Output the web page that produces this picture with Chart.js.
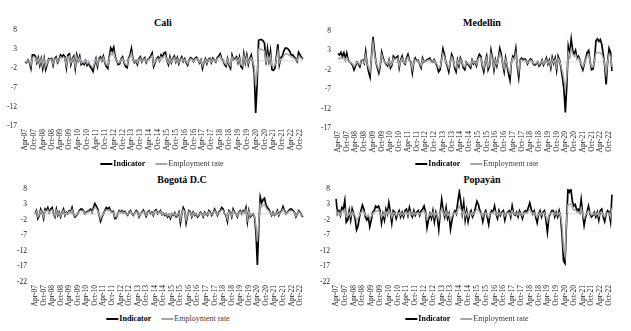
<!DOCTYPE html>
<html>
<head>
<meta charset="utf-8">
<script src="https://cdn.jsdelivr.net/npm/chart.js@4.4.1/dist/chart.umd.min.js"></script>
<style>
  body { margin: 0; background: #fff; }
  #wrap { position: relative; width: 631px; height: 331px; overflow: hidden; font-family: 'Liberation Serif', 'Times New Roman', serif; }
  .box { position: absolute; }
  .title { position: absolute; font-weight: bold; font-size: 10px; line-height: 12px; transform: translateX(-50%); white-space: nowrap; color: #000; }
  .legend { position: absolute; font-size: 8px; line-height: 10px; transform: translateX(-50%); white-space: nowrap; color: #000; }
  .sw { display: inline-block; width: 12px; height: 2px; vertical-align: middle; margin-right: 1px; }
  .blk { background: #000; }
  .gry { background: #a6a6a6; margin-left: 10px; }
  .emp { color: #3a3a3a; }
</style>
</head>
<body>
<div id="wrap">
  <div class="title" style="left:163px;top:17px">Cali</div>
  <div class="title" style="left:482px;top:17px">Medellín</div>
  <div class="title" style="left:182px;top:174px">Bogotá D.C</div>
  <div class="title" style="left:482px;top:174px">Popayán</div>

  <div class="box" style="left:0;top:0;width:315px;height:156px"><canvas id="cali"></canvas></div>
  <div class="box" style="left:315px;top:0;width:316px;height:156px"><canvas id="medellin"></canvas></div>
  <div class="box" style="left:0;top:168px;width:315px;height:146px"><canvas id="bogota"></canvas></div>
  <div class="box" style="left:305px;top:168px;width:326px;height:146px"><canvas id="popayan"></canvas></div>

  <div class="legend" style="left:162px;top:159px"><span class="sw blk"></span><b>Indicator</b><span class="sw gry"></span><span class="emp">Employment rate</span></div>
  <div class="legend" style="left:477px;top:159px"><span class="sw blk"></span><b>Indicator</b><span class="sw gry"></span><span class="emp">Employment rate</span></div>
  <div class="legend" style="left:168px;top:314px"><span class="sw blk"></span><b>Indicator</b><span class="sw gry"></span><span class="emp">Employment rate</span></div>
  <div class="legend" style="left:467px;top:314px"><span class="sw blk"></span><b>Indicator</b><span class="sw gry"></span><span class="emp">Employment rate</span></div>
</div>

<script>
// months Apr-07 .. Dec-22
var mesesNomes = ['Jan','Feb','Mar','Apr','May','Jun','Jul','Aug','Sep','Oct','Nov','Dec'];
var anoInicio = 2007, anoFim = 2022;

var caliIndicator = [
  -0.3, -0.5, 0.2, -0.5, -2, 1.5, 1.6, 1.2, -0.5,
  0.8, -1.2, 0.5, -2, 0.5, -2.3, -1, 0.5, 0.3, 0.6, -1.2, 0.5,
  1, -0.5, 0.3, 1.5, 1, 1.5, 1, -1.8, 1.5, 1.8, -1, 0.5,
  1.2, -2, 1.5, 0, 1.2, -1, -0.5, -1, 0, -1.2, -0.5, -1.5,
  -2, -2.8, -1, 0.5, -1.5, 0.5, 1, 0, 1.2, -0.5, -1.5, -2,
  1, 3.3, 2.5, 3.5, 1, 0, -1, -0.8, 0.5, 1, -0.5, -1.5,
  -1.8, 0.5, 1.5, 3.2, 0.5, -0.5, 0, -1, 0.5, 1, -0.3, 0.4,
  0.8, -0.5, 0.3, 0.6, 1.2, 2, -1.5, -0.5, 0.5, 1, 0, 1.5,
  1, 2, 2.2, 0, -1, 1, -0.5, 0.6, 1.2, -0.3, 0.8, -0.8,
  0.3, 1, -0.2, 0.5, -0.5, -1.2, 0.3, 0.8, 0.5, -0.2, 0.6, 0.9,
  0.3, -0.6, 0.2, -2, -0.4, 0.5, -0.8, 0.3, 0.6, -0.5, 0.7, 0.2,
  -0.3, 0.8, 1.2, 1.8, 0.5, 0, -1, -1.5, 0.5, -1.2, -2, 1.5,
  0.3, 0.5, 1, -0.5, 1, -1.5, -2, 1.8, -0.5, 1.5, -1, 0.5,
  1.5, -0.5, -3, -13.6, -6, 5.3, 5.5, 5.5, 5.2, 4.5, -1, 3,
  0, 2.5, -2.3, -2.5, -2, 1, 4.3, -1, 0.8, 1.2, 2.5, 3.3,
  3.3, 3, 2.5, 1.5, 1.5, 1, 0.5, -0.2, 2.2, 1.5, 0.8, 0.5
];
var caliEmployment = [
  -0.2, -0.3, 0.1, -0.3, -1.2, 0.8, 1, 0.7, -0.3,
  0.5, -0.8, 0.3, -1.3, 0.3, -1.5, -0.7, 0.3, 0.2, 0.4, -0.8, 0.3,
  0.6, -0.3, 0.2, 1, 0.7, 1, 0.7, -1.2, 1, 1.2, -0.6, 0.3,
  0.8, -1.3, 1, 0, 0.8, -0.6, -0.3, -0.6, 0, -0.8, -0.3, -1,
  -1.3, -1.8, -0.6, 0.3, -1, 0.3, 0.6, 0, 0.8, -0.3, -1, -1.3,
  0.6, 2, 1.5, 2.2, 0.6, 0, -0.6, -0.5, 0.3, 0.6, -0.3, -1,
  -1.2, 0.3, 1, 2, 0.3, -0.3, 0, -0.6, 0.3, 0.6, -0.2, 0.3,
  0.5, -0.3, 0.2, 0.4, 0.8, 1.3, -1, -0.3, 0.3, 0.6, 0, 1,
  0.6, 1.3, 1.4, 0, -0.6, 0.6, -0.3, 0.4, 0.8, -0.2, 0.5, -0.5,
  0.2, 0.6, -0.1, 0.3, -0.3, -0.8, 0.2, 0.5, 0.3, -0.1, 0.4, 0.6,
  0.2, -0.4, 0.1, -1.3, -0.3, 0.3, -0.5, 0.2, 0.4, -0.3, 0.4, 0.1,
  -0.2, 0.5, 0.8, 1.2, 0.3, 0, -0.6, -1, 0.3, -0.8, -1.3, 1,
  0.2, 0.3, 0.6, -0.3, 0.6, -1, -1.3, 1.2, -0.3, 1, -0.6, 0.3,
  0.8, -0.3, -1.5, -6.5, -3, 3, 3, 3, 2.8, 2.5, -0.5, 1.5,
  0, 1.3, -1.2, -1.5, -1.2, 0.5, 2.5, -0.5, 0.5, 0.6, 1.2, 1.8,
  1.8, 1.6, 1.4, 1, 0.9, 0.6, 0.3, 0, 1.2, 0.9, 0.5, 0.3
];

var medellinIndicator = [
  2.2, 1.8, 2.5, 1.5, 2.4, 0.8, 2.3, 0.5, 0,
  -0.3, -0.8, -2, -1, 0, -0.5, -1.2, 0.3, 0.5, -0.3, 2.7, -0.5,
  -2.5, -3.9, 1.5, 6.5, 3, 0, -1.5, -2.8, -1, 2.5, 1, 0,
  -0.5, -1, 0.5, -1.5, -0.8, 1.5, 1, 1.2, 1.5, -1.5, 0.5, 1.5,
  0, -0.5, 1, 2, 0.5, 0, -2.8, 0, 1, 0.3, 0.5, -0.5,
  -1.5, 1, 0, 0.3, 0.5, 0.8, 1, 0.2, 0, 0.6, -0.3, -1,
  -2.5, -2, 0.5, 3.4, 2, 0, -1, -2.5, 0, 2, 1, -1.5,
  -2.5, 0.5, -1, 1, 0, -1.5, -2, 0, -0.5, -1, -1.5, 0.5,
  -0.5, 0, -1, 1, 2, 1.5, -1, -2.5, 0, 1.5, -2, -1,
  3, 1, -2, 0.5, -1, 1, 3.5, 2, -0.5, -2.5, 1, -1,
  -3, -4.7, 0, 1.5, 1, 3.4, -1, -3.9, 0.5, 1, 0.5, 0.8,
  0.5, -0.5, 0.2, 0.8, 0.5, -0.5, -0.8, -0.5, 0, -1, -0.5, 0.5,
  -0.8, 0, 1, -0.5, 0.5, -1.5, 1.2, -0.3, 1, -2, 1.5, 0.5,
  -1.5, -4, -7, -13, -6, 4, 2, 5.9, 3, 2, 3, 1,
  1.5, 0.5, -1, -2, -0.5, 1, 2.5, 3, 0, -2, -1.8, 0.5,
  5.5, 6, 5.3, 5.8, 4.5, 2, -1, -5.8, 0, 3.5, 2.5, -2.3
];
var medellinEmployment = [
  1, 0.8, 1.2, 0.8, 1.3, 0.5, 1.2, 0.3, 0,
  -0.2, -0.5, -1.2, -0.6, 0, -0.3, -0.7, 0.2, 0.3, -0.2, 1.8, -0.3,
  -1.5, -2.5, 1, 5, 2, 0, -1, -2, -0.6, 1.8, 0.6, 0,
  -0.3, -0.6, 0.3, -1, -0.5, 1, 0.6, 0.8, 1, -1, 0.3, 1,
  0, -0.3, 0.6, 1.3, 0.3, 0, -1.8, 0, 0.6, 0.2, 0.3, -0.3,
  -1, 0.6, 0, 0.2, 0.3, 0.5, 0.6, 0.1, 0, 0.4, -0.2, -0.6,
  -1.6, -1.3, 0.3, 2.2, 1.3, 0, -0.6, -1.6, 0, 1.3, 0.6, -1,
  -1.6, 0.3, -0.6, 0.6, 0, -1, -1.3, 0, -0.3, -0.6, -1, 0.3,
  -0.3, 0, -0.6, 0.6, 1.3, 1, -0.6, -1.6, 0, 1, -1.3, -0.6,
  2, 0.6, -1.3, 0.3, -0.6, 0.6, 2.3, 1.3, -0.3, -1.6, 0.6, -0.6,
  -2, -3, 0, 1, 0.6, 2.2, -0.6, -2.5, 0.3, 0.6, 0.3, 0.5,
  0.3, -0.3, 0.1, 0.5, 0.3, -0.3, -0.5, -0.3, 0, -0.6, -0.3, 0.3,
  -0.5, 0, 0.6, -0.3, 0.3, -1, 0.8, -0.2, 0.6, -1.3, 1, 0.3,
  -1, -2.5, -4.5, -7, -3.5, 2.5, 1.5, 3.5, 2, 1.5, 2, 0.6,
  1, 0.3, -0.6, -1.3, -0.3, 0.6, 1.6, 2, 0, -1.3, -1.2, 0.3,
  2.3, 2.5, 2.4, 2.4, 2, 1, -0.6, -3, 0, 2, 1.5, -1.2
];

var bogotaIndicator = [
  0, 1, -1.5, -0.5, 1.5, 0.5, -1.5, 1.5, 1,
  2, 0.5, 1.5, 2, 0, -1, 1.5, -0.5, 0.5, -1, 0.5, 1.5,
  -0.5, 0.5, 0, 1, 0.5, 2, 0, -1, -0.5, 0, 1, 1.5,
  1.5, 1, 0, 0.5, 0.8, 1, 1.5, 0.5, 2, 3.3, 2.5, 1.5,
  -0.5, -2.4, -1, 0, 1, 2, 1.5, 2, 1, 0.5, 0.8, -1.5,
  -1.3, 0, 1, 0.5, 1, 0.3, 0.8, 0, -0.5, 0.5, 1, 0,
  -0.5, 0.3, 1, 0.5, -1, 0, 0.5, 1.2, 0.3, -0.8, 0.5, 1,
  0, 0.5, -0.5, 1, 1.3, 0, 0.5, 1, -0.3, 0.2, -0.5, 0,
  -1, -0.3, -1.5, 0, -0.5, 0.3, -1, -0.5, 0.5, -2.9, 0, 2,
  1, -3, -0.5, 1, 0.5, -1, 0.5, -0.5, 0, -1, -0.5, 0.5,
  0, -1, 0.5, 0, -0.5, 1, 0.5, -0.5, 0.3, 1.5, 0.5, -0.5,
  0.5, 1, 2, 1.5, 0, -0.5, -2.5, 1, 0.5, -1, 1.5, 0.5,
  0, -1, 0.5, 1, 0, 1, 0.5, 2, -2.5, 1, -1, -0.5,
  0, -1, -6, -16.5, -4, 5.4, 3.5, 4.5, 5, 3, 2, 1.5,
  0.5, -0.5, 0.5, -0.5, 0, 1, -0.5, 0.5, 1, 2.3, 1, 0,
  0.5, 1, 1.5, 1.5, 1, 0.5, -1, 0, 1, 0.5, -0.5, -1
];
var bogotaEmployment = [
  0, 0.7, -1, -0.3, 1, 0.3, -1, 1, 0.7,
  1.3, 0.3, 1, 1.3, 0, -0.7, 1, -0.3, 0.3, -0.7, 0.3, 1,
  -0.3, 0.3, 0, 0.7, 0.3, 1.3, 0, -0.7, -0.3, 0, 0.7, 1,
  1, 0.7, 0, 0.3, 0.5, 0.7, 1, 0.3, 1.3, 2.2, 1.7, 1,
  -0.3, -1.6, -0.7, 0, 0.7, 1.3, 1, 1.3, 0.7, 0.3, 0.5, -1,
  -0.9, 0, 0.7, 0.3, 0.7, 0.2, 0.5, 0, -0.3, 0.3, 0.7, 0,
  -0.3, 0.2, 0.7, 0.3, -0.7, 0, 0.3, 0.8, 0.2, -0.5, 0.3, 0.7,
  0, 0.3, -0.3, 0.7, 0.9, 0, 0.3, 0.7, -0.2, 0.1, -0.3, 0,
  -0.7, -0.2, -1, 0, -0.3, 0.2, -0.7, -0.3, 0.3, -1.9, 0, 1.3,
  0.7, -2, -0.3, 0.7, 0.3, -0.7, 0.3, -0.3, 0, -0.7, -0.3, 0.3,
  0, -0.7, 0.3, 0, -0.3, 0.7, 0.3, -0.3, 0.2, 1, 0.3, -0.3,
  0.3, 0.7, 1.3, 1, 0, -0.3, -1.7, 0.7, 0.3, -0.7, 1, 0.3,
  0, -0.7, 0.3, 0.7, 0, 0.7, 0.3, 1.3, -1.7, 0.7, -0.7, -0.3,
  0, -0.7, -4, -9, -2.5, 3.2, 2.2, 2.8, 3, 2, 1.3, 1,
  0.3, -0.3, 0.3, -0.3, 0, 0.7, -0.3, 0.3, 0.7, 1.5, 0.7, 0,
  0.3, 0.7, 1, 1, 0.7, 0.3, -0.7, 0, 0.7, 0.3, -0.3, -0.7
];

var popayanIndicator = [
  4.8, 0, 1, -0.5, 2, 1.5, 4.3, -2.7, -2,
  1, -2, 1.6, 0, -1.5, -5.2, -4, -1, 1, 2.8, 1.5, -1,
  -2, -1, -4.2, -2, 0.5, 1, 2.5, 2, 2.5, 1, -3, 0,
  -2, 1.5, 0, 3.5, 0.5, -3, 1, 0.5, -1.5, 0, 1, -1,
  0.5, -1, 1, 1.5, -0.5, 2, 0, -1, 1, -0.5, 0.5, 1,
  -0.5, 1, 1.5, 2.5, 0.5, -4.5, -2, 0, -1.5, 1, -2.5, 0.5,
  -1, -5, 0.5, 4.6, 1, -1, 2, -1.5, 0, -5, -2, 0,
  1, 0, 4, 7, 4, 0, 3.5, -2, 1, -2.5, 0, 1,
  -1, 0, 2, 4, 3, 1, 0, -2.5, 0, 1, -1, -3.4,
  0, 1, 0.5, 2.5, 0, -1.5, 1, -0.5, 0.5, 1, -2, 0,
  0.5, 1, -1, 2.5, 0, -0.5, 0.5, -1, 1, 0, -1.5, 0.5,
  1, 0.5, 2, 3.5, 1.5, 0, 1, -1, -2.9, 0, 1, -1,
  0.5, 1, -2, -5.9, -1, 0, 1, 1, -1, 0.5, -1, 1,
  -1, -7, -15.2, -16, -3, 7.8, 7, 8, 4, 2.5, 3, 1,
  1.5, 0.5, 4.6, 0, -3.7, -1, 0.5, 2.5, 0, -1, -0.5, 0.5,
  -1, 0.5, -2, 1, 1.5, -1, -2.5, 0, 1, 0.5, -2.5, 6.2
];
var popayanEmployment = [
  1.5, 0, 0.5, -0.3, 0.8, 0.6, 1.5, -1, -0.8,
  0.4, -0.8, 0.6, 0, -0.6, -2, -1.5, -0.4, 0.4, 1, 0.6, -0.4,
  -0.8, -0.4, -1.5, -0.8, 0.2, 0.4, 1, 0.8, 1, 0.4, -1.2, 0,
  -0.8, 0.6, 0, 1.3, 0.2, -1.2, 0.4, 0.2, -0.6, 0, 0.4, -0.4,
  0.2, -0.4, 0.4, 0.6, -0.2, 0.8, 0, -0.4, 0.4, -0.2, 0.2, 0.4,
  -0.2, 0.4, 0.6, 1, 0.2, -1.8, -0.8, 0, -0.6, 0.4, -1, 0.2,
  -0.4, -2, 0.2, 1.8, 0.4, -0.4, 0.8, -0.6, 0, -2, -0.8, 0,
  0.4, 0, 1.5, 2.5, 1.5, 0, 1.3, -0.8, 0.4, -1, 0, 0.4,
  -0.4, 0, 0.8, 1.5, 1.2, 0.4, 0, -1, 0, 0.4, -0.4, -1.3,
  0, 0.4, 0.2, 1, 0, -0.6, 0.4, -0.2, 0.2, 0.4, -0.8, 0,
  0.2, 0.4, -0.4, 1, 0, -0.2, 0.2, -0.4, 0.4, 0, -0.6, 0.2,
  0.4, 0.2, 0.8, 1.3, 0.6, 0, 0.4, -0.4, -1.2, 0, 0.4, -0.4,
  0.2, 0.4, -0.8, -2.5, -0.4, 0, 0.4, 0.4, -0.4, 0.2, -0.4, 0.4,
  -0.4, -4, -11, -13.5, -2, 3, 3, 3.2, 2, 1.2, 1.5, 0.5,
  0.6, 0.2, 2, 0, -1.5, -0.4, 0.2, 1, 0.2, -0.4, -0.2, 0.2,
  -0.4, 0.2, -0.8, 0.4, 0.6, -0.4, -1, 0, 0.4, 0.2, -1, 2
];

function listaMeses() {
  var labels = [];
  for (var ano = anoInicio; ano <= anoFim; ano++) {
    var m0 = (ano === anoInicio) ? 3 : 0;
    for (var m = m0; m < 12; m++) {
      labels.push(mesesNomes[m] + '-' + String(ano).substr(2, 2));
    }
  }
  return labels;
}

var meses = listaMeses();
var fonte = "'Liberation Serif', 'Times New Roman', serif";

// horizontal axis crosses at zero (light line like excel)
var linhaZero = {
  id: 'linhaZero',
  beforeDatasetsDraw: function(chart) {
    var y = chart.scales.y.getPixelForValue(0);
    var a = chart.chartArea;
    var ctx = chart.ctx;
    ctx.save();
    ctx.strokeStyle = '#d6dbe3';
    ctx.lineWidth = 1;
    ctx.beginPath();
    ctx.moveTo(a.left, y);
    ctx.lineTo(a.right, y);
    ctx.stroke();
    ctx.restore();
  }
};

function desenhaChart(id, indicador, emprego, minY, cfg) {
  var ctx = document.getElementById(id).getContext('2d');
  return new Chart(ctx, {
    type: 'line',
    data: {
      labels: meses,
      datasets: [{
        label: 'Indicator',
        data: indicador,
        borderColor: '#000000',
        borderWidth: 1.7,
        pointRadius: 0,
        tension: 0,
        order: 2
      }, {
        label: 'Employment rate',
        data: emprego,
        borderColor: '#a6a6a6',
        borderWidth: 1.4,
        pointRadius: 0,
        tension: 0,
        order: 1
      }]
    },
    options: {
      responsive: true,
      maintainAspectRatio: false,
      animation: false,
      layout: { padding: { top: cfg.top, right: cfg.right, left: 0, bottom: 0 } },
      plugins: {
        legend: { display: false },
        title: { display: false },
        tooltip: { enabled: false }
      },
      scales: {
        x: {
          grid: { display: false, drawTicks: false },
          border: { display: false },
          afterFit: function(scale) { scale.height = cfg.xHeight; },
          ticks: {
            autoSkip: false,
            maxRotation: 90,
            minRotation: 90,
            padding: 3,
            color: '#222',
            font: { family: fonte, size: 7.5 },
            callback: function(valor, indice) {
              return indice % 6 === 0 ? this.getLabelForValue(valor) : '';
            }
          }
        },
        y: {
          min: minY,
          max: 8,
          grid: { display: false, drawTicks: false },
          border: { display: false },
          afterFit: function(scale) { scale.width = cfg.yWidth; },
          ticks: {
            stepSize: 5,
            padding: cfg.tickPad,
            color: '#222',
            font: { family: fonte, size: 7.5 }
          }
        }
      }
    },
    plugins: [linhaZero]
  });
}

desenhaChart('cali', caliIndicator, caliEmployment, -17, { top: 30, right: 2, xHeight: 30, yWidth: 25, tickPad: 8 });
desenhaChart('medellin', medellinIndicator, medellinEmployment, -17, { top: 31, right: 19, xHeight: 28, yWidth: 23, tickPad: 7 });
desenhaChart('bogota', bogotaIndicator, bogotaEmployment, -22, { top: 21, right: 3, xHeight: 32, yWidth: 35, tickPad: 8 });
desenhaChart('popayan', popayanIndicator, popayanEmployment, -22, { top: 21, right: 19, xHeight: 32, yWidth: 31, tickPad: 6 });
</script>
</body>
</html>
